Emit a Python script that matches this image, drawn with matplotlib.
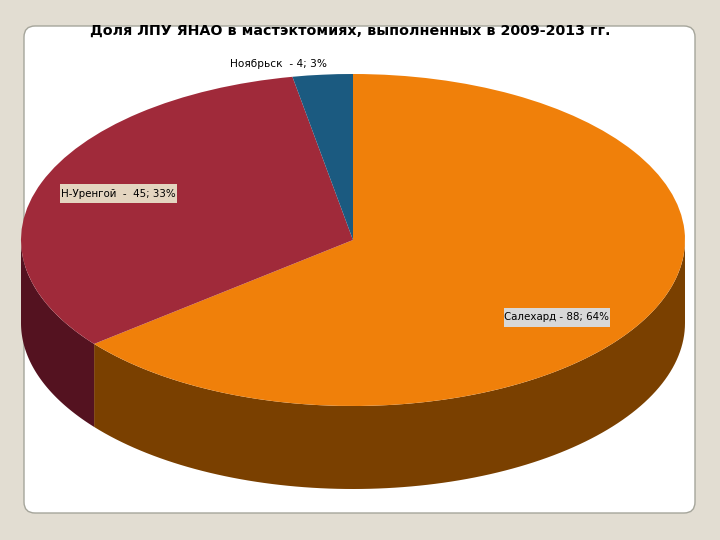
import numpy as np
import matplotlib.pyplot as plt
from matplotlib.patches import FancyBboxPatch, Rectangle

title = 'Доля ЛПУ ЯНАО в мастэктомиях, выполненных в 2009-2013 гг.'
values = [88, 45, 4]
labels = ['Салехард - 88; 64%', 'Н-Уренгой  -  45; 33%', 'Ноябрьск  - 4; 3%']
top_colors = ['#F0800A', '#A02A3A', '#1B5A80']
side_colors = ['#7A4000', '#541220', '#0E2D40']

plt.rcParams['font.family'] = ['DejaVu Sans']
fig = plt.figure(figsize=(7.2, 5.4), dpi=100, facecolor='#E2DDD2')

# background axes in pixels, used for the panel and the text positions
bg = fig.add_axes([0, 0, 1, 1], zorder=0)
bg.set_xlim(0, 720)
bg.set_ylim(540, 0)
bg.axis('off')
bg.add_patch(FancyBboxPatch((24, 26), 671, 487, boxstyle='round,pad=0,rounding_size=11',
                            facecolor='white', edgecolor='#A5A59B', linewidth=1))

# pie axes: unit radius squashed to an ellipse, 0.5 of depth under it
depth = 0.5
ax = fig.add_axes([21 / 720, 51 / 540, 664 / 720, 415 / 540], zorder=1)
ax.pie(values, colors=top_colors, startangle=90, counterclock=False, radius=1,
       wedgeprops={'linewidth': 0})
ax.set_aspect('auto')
ax.set_xlim(-1, 1)
ax.set_ylim(-1 - depth, 1)
for w in ax.patches:
    w.set_clip_on(False)
    w.set_zorder(3)

# side wall, only the front half of each slice shows
ends = 90 - np.cumsum(values) / np.sum(values) * 360
starts = np.r_[90, ends[:-1]]
for a0, a1, c in zip(starts, ends, side_colors):
    a = np.clip(a0, -180, 0)
    b = np.clip(a1, -180, 0)
    if a <= b:
        continue
    t = np.radians(np.linspace(a, b, 100))
    xs = np.r_[np.cos(t), np.cos(t[::-1])]
    ys = np.r_[np.sin(t), np.sin(t[::-1]) - depth]
    ax.fill(xs, ys, color=c, linewidth=0, zorder=2, clip_on=False)

# label boxes are narrower than a text bbox with this height would be
ax.add_patch(Rectangle((60, 184), 117, 19, transform=bg.transData,
                       facecolor='#E4D5C0', edgecolor='none', zorder=4, clip_on=False))
ax.add_patch(Rectangle((504, 308), 106, 19, transform=bg.transData,
                       facecolor='#D8D8D8', edgecolor='none', zorder=4, clip_on=False))

ax.text(350.5, 31, title, transform=bg.transData, ha='center', va='center',
        fontsize=10.25, fontweight='bold', color='black')
ax.text(278, 64, labels[2], transform=bg.transData, ha='center', va='center',
        fontsize=7.55, color='black')
ax.text(118.5, 194, labels[1], transform=bg.transData, ha='center', va='center',
        fontsize=7.4, color='black', zorder=5)
ax.text(557, 317.5, labels[0], transform=bg.transData, ha='center', va='center',
        fontsize=7.35, color='black', zorder=5)

fig.savefig('out.png', dpi=100, facecolor=fig.get_facecolor())
